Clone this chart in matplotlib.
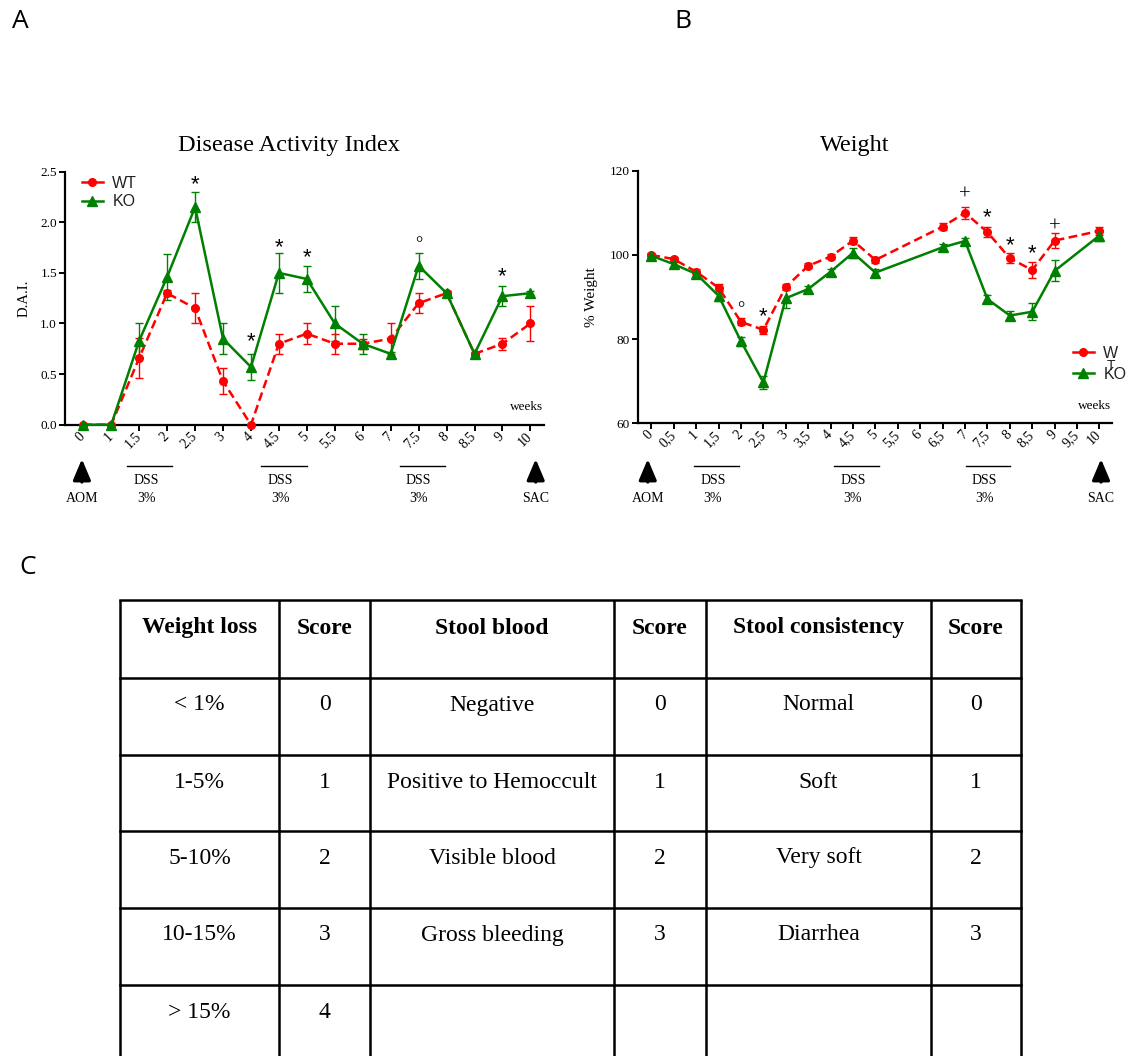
import matplotlib
matplotlib.use("Agg")
import matplotlib.pyplot as plt
import matplotlib.transforms as mtransforms
from matplotlib.lines import Line2D
from matplotlib.patches import FancyArrowPatch

W, H = 1127, 1056

# ---- Disease Activity Index (categorical weeks) ----
dai_weeks = ["0", "1", "1.5", "2", "2.5", "3", "4", "4.5", "5", "5.5",
             "6", "7", "7.5", "8", "8.5", "9", "10"]
dai_wt = [0, 0, 0.66, 1.30, 1.15, 0.43, 0.0, 0.80, 0.90, 0.80,
          0.80, 0.85, 1.20, 1.30, 0.70, 0.80, 1.00]
dai_wt_err = [0, 0, 0.20, 0.03, 0.15, 0.13, 0.0, 0.10, 0.10, 0.10,
              0.05, 0.15, 0.10, 0.02, 0.02, 0.06, 0.17]
dai_ko = [0, 0, 0.83, 1.46, 2.15, 0.85, 0.57, 1.50, 1.44, 1.00,
          0.80, 0.70, 1.57, 1.30, 0.70, 1.27, 1.30]
dai_ko_err = [0, 0, 0.17, 0.23, 0.15, 0.15, 0.13, 0.20, 0.13, 0.17,
              0.10, 0.02, 0.13, 0.02, 0.02, 0.10, 0.02]
dai_sig_week = ["2.5", "4", "4.5", "5", "7.5", "9"]
dai_sig_sym = ["*", "*", "*", "*", "°", "*"]
dai_sig_y = [2.37, 0.82, 1.75, 1.65, 1.78, 1.46]

# ---- Weight ----
wt_ticks = ["0", "0,5", "1", "1,5", "2", "2,5", "3", "3,5", "4", "4,5", "5",
            "5,5", "6", "6,5", "7", "7,5", "8", "8,5", "9", "9,5", "10"]
wt_tick_vals = [0, 0.5, 1, 1.5, 2, 2.5, 3, 3.5, 4, 4.5, 5,
                5.5, 6, 6.5, 7, 7.5, 8, 8.5, 9, 9.5, 10]
wt_weeks = [0, 0.5, 1, 1.5, 2, 2.5, 3, 3.5, 4, 4.5, 5, 6.5, 7, 7.5, 8, 8.5, 9, 10]
wt_wt = [100.0, 99.0, 96.0, 92.2, 84.1, 82.2, 92.4, 97.4, 99.6, 103.4, 98.8,
         106.7, 110.0, 105.4, 99.2, 96.4, 103.4, 105.7]
wt_wt_err = [0.5, 0.5, 0.6, 0.8, 0.8, 1.0, 0.8, 0.6, 0.6, 0.9, 0.8,
             0.9, 1.4, 1.2, 1.2, 1.8, 1.8, 1.0]
wt_ko = [99.8, 97.8, 95.5, 90.3, 79.5, 69.7, 89.7, 91.9, 96.0, 100.5, 95.8,
         101.8, 103.3, 89.5, 85.6, 86.5, 96.2, 104.6]
wt_ko_err = [0.5, 0.6, 0.6, 1.2, 1.1, 1.6, 2.3, 0.6, 0.7, 1.2, 0.8,
             0.7, 0.6, 1.0, 1.0, 2.0, 2.5, 1.3]
wt_sig_week = [2, 2.5, 7, 7.5, 8, 8.5, 9]
wt_sig_sym = ["°", "*", "+", "*", "*", "*", "+"]
wt_sig_y = [86.9, 85.3, 114.1, 108.9, 102.1, 100.2, 106.7]

# ---- Scoring table ----
table_header = ["Weight loss", "Score", "Stool blood", "Score", "Stool consistency", "Score"]
weight_loss = ["< 1%", "1-5%", "5-10%", "10-15%", "> 15%"]
weight_score = ["0", "1", "2", "3", "4"]
stool_blood = ["Negative", "Positive to Hemoccult", "Visible blood", "Gross bleeding", ""]
blood_score = ["0", "1", "2", "3", ""]
stool_cons = ["Normal", "Soft", "Very soft", "Diarrhea", ""]
cons_score = ["0", "1", "2", "3", ""]

RED = "#ff0000"
GREEN = "#008000"
SERIF = "Liberation Serif"
SANS = "Liberation Sans"

fig = plt.figure(figsize=(W / 100, H / 100), dpi=100)
fig.patch.set_facecolor("white")

# transform in pixel units measured from the top-left corner of the figure
px = mtransforms.Affine2D().scale(1 / W, -1 / H).translate(0, 1) + fig.transFigure


def style_axes(ax):
    for s in ("top", "right"):
        ax.spines[s].set_visible(False)
    for s in ("left", "bottom"):
        ax.spines[s].set_linewidth(1.6)
    ax.tick_params(axis="both", direction="out", length=4, width=1.4,
                   colors="black")
    ax.tick_params(axis="y", labelsize=9.5, pad=2)
    ax.tick_params(axis="x", labelsize=10, pad=3)
    for lab in ax.get_yticklabels():
        lab.set_fontfamily(SERIF)


def draw_series(ax, x, y, err, color, marker, ms, ls):
    ax.errorbar(x, y, yerr=err, color=color, ecolor=color, elinewidth=1.0,
                capsize=3, capthick=1.0, fmt="none", clip_on=False, zorder=3)
    line, = ax.plot(x, y, color=color, lw=1.8, ls=ls, marker=marker, ms=ms,
                    clip_on=False, zorder=4)
    if ls == "--":
        line.set_dashes((3.5, 1.8))
    return line


def sig_mark(ax, x, y, sym):
    if sym == "+":
        ax.text(x, y, sym, ha="center", va="center", fontsize=15, family=SERIF)
    elif sym == "*":
        ax.text(x, y, sym, ha="center", va="center", fontsize=16, family=SANS)
    else:
        ax.text(x, y, sym, ha="center", va="center", fontsize=13, family=SERIF)


def x_annotations(ax, dss_spans, dss_centers, aom_x, sac_x):
    tr = mtransforms.blended_transform_factory(ax.transData, px)
    for (a, b) in dss_spans:
        ax.plot([a, b], [465.5, 465.5], transform=tr, color="black", lw=1.0,
                clip_on=False)
    for c in dss_centers:
        ax.text(c, 481, "DSS", transform=tr, ha="center", va="center",
                fontsize=10, family=SERIF)
        ax.text(c, 498, "3%", transform=tr, ha="center", va="center",
                fontsize=10, family=SERIF)
    for xa, lab in ((aom_x, "AOM"), (sac_x, "SAC")):
        arr = FancyArrowPatch((xa, 482), (xa, 459), transform=tr,
                              arrowstyle="-|>,head_length=0.9,head_width=0.38",
                              mutation_scale=14, color="black", lw=2.4,
                              shrinkA=0, shrinkB=0, clip_on=False)
        ax.add_artist(arr)
        ax.text(xa, 498, lab, transform=tr, ha="center", va="center",
                fontsize=10, family=SERIF)


# ================= Panel A: DAI =================
axA = fig.add_axes([65.3 / W, 1 - 424.7 / H, (543.8 - 65.3) / W, 253 / H])
xa = list(range(len(dai_weeks)))
draw_series(axA, xa, dai_wt, dai_wt_err, RED, "o", 5.5, "--")
draw_series(axA, xa, dai_ko, dai_ko_err, GREEN, "^", 6.5, "-")
axA.set_xlim(-0.644, 16.48)
axA.set_ylim(0, 2.5)
axA.set_yticks([0, 0.5, 1.0, 1.5, 2.0, 2.5])
axA.set_yticklabels(["0.0", "0.5", "1.0", "1.5", "2.0", "2.5"])
axA.set_xticks(xa)
axA.set_xticklabels(dai_weeks, rotation=45, ha="right", va="center",
                    rotation_mode="anchor", family=SERIF)
style_axes(axA)
axA.set_ylabel("D.A.I.", family=SERIF, fontsize=10.5, labelpad=7)
fig.text(289 / W, 1 - 145 / H, "Disease Activity Index", family=SERIF,
         fontsize=17.5, ha="center", va="center")
for wk, sym, yv in zip(dai_sig_week, dai_sig_sym, dai_sig_y):
    sig_mark(axA, dai_weeks.index(wk), yv, sym)
axA.text(16.45, 0.17, "weeks", ha="right", va="center", fontsize=9.5, family=SERIF)
x_annotations(axA, [(1.58, 3.19), (6.37, 7.99), (11.34, 12.94)],
              [2.26, 7.04, 12.0], -0.05, 16.19)

hA = [Line2D([], [], color=RED, marker="o", ms=5.5, lw=1.8),
      Line2D([], [], color=GREEN, marker="^", ms=6.5, lw=1.8)]
axA.legend(hA, ["WT", "KO"], loc="upper left", frameon=False,
           bbox_to_anchor=(82 / W, 1 - 176 / H), bbox_transform=fig.transFigure,
           borderpad=0, borderaxespad=0, handlelength=1.3, handletextpad=0.6,
           labelspacing=0.2, prop={"family": SANS, "size": 11.5},
           labelcolor="#222222")

# ================= Panel B: Weight =================
axB = fig.add_axes([637.9 / W, 1 - 423.3 / H, (1112 - 637.9) / W, 252.6 / H])
draw_series(axB, wt_weeks, wt_wt, wt_wt_err, RED, "o", 5.5, "--")
draw_series(axB, wt_weeks, wt_ko, wt_ko_err, GREEN, "^", 6.5, "-")
axB.set_xlim(-0.30, 10.28)
axB.set_ylim(60, 120)
axB.set_yticks([60, 80, 100, 120])
axB.set_xticks(wt_tick_vals)
axB.set_xticklabels(wt_ticks, rotation=45, ha="right", va="center",
                    rotation_mode="anchor", family=SERIF)
style_axes(axB)
axB.set_ylabel("% Weight", family=SERIF, fontsize=11, labelpad=8)
fig.text(855 / W, 1 - 145 / H, "Weight", family=SERIF, fontsize=17.5,
         ha="center", va="center")
for wk, sym, yv in zip(wt_sig_week, wt_sig_sym, wt_sig_y):
    sig_mark(axB, wk, yv, sym)
axB.text(10.25, 64.0, "weeks", ha="right", va="center", fontsize=9.5, family=SERIF)
x_annotations(axB, [(0.96, 1.945), (4.085, 5.085), (7.015, 8.005)],
              [1.375, 4.5, 7.43], -0.08, 10.035)

hB = [Line2D([], [], color=RED, marker="o", ms=5.5, lw=1.8),
      Line2D([], [], color=GREEN, marker="^", ms=6.5, lw=1.8)]
axB.legend(hB, ["W", "KO"], loc="upper left", frameon=False,
           bbox_to_anchor=(1073 / W, 1 - 346 / H), bbox_transform=fig.transFigure,
           borderpad=0, borderaxespad=0, handlelength=1.3, handletextpad=0.6,
           labelspacing=0.35, prop={"family": SANS, "size": 11.5},
           labelcolor="#222222")
fig.text(1111 / W, 1 - 366 / H, "T", ha="center", va="center",
         fontsize=10, family=SANS, color="#222222")

# ================= Panel letters =================
fig.text(20 / W, 1 - 21 / H, "A", ha="center", va="center", fontsize=19,
         family="Open Sans")
fig.text(683 / W, 1 - 21 / H, "B", ha="center", va="center", fontsize=19,
         family="Open Sans")
fig.text(28 / W, 1 - 567 / H, "C", ha="center", va="center", fontsize=19,
         family="Open Sans")

# ================= Panel C: scoring table =================
axC = fig.add_axes([0, 0, 1, 1], zorder=-1)
axC.set_xlim(0, W)
axC.set_ylim(H, 0)
axC.axis("off")
col_edges = [120, 279, 370, 614, 706, 931, 1021]
row_edges = [600, 678, 755, 831, 908, 985]
for xe in col_edges:
    axC.plot([xe, xe], [row_edges[0], H], color="black", lw=1.8,
             solid_capstyle="butt")
for ye in row_edges:
    axC.plot([col_edges[0], col_edges[-1]], [ye, ye], color="black", lw=1.8,
             solid_capstyle="projecting")
centers = [(a + b) / 2 for a, b in zip(col_edges[:-1], col_edges[1:])]
for c, txt in zip(centers, table_header):
    axC.text(c, row_edges[0] + 28, txt, ha="center", va="center", fontsize=17,
             family=SERIF, fontweight="bold")
columns = [weight_loss, weight_score, stool_blood, blood_score, stool_cons, cons_score]
for ci, col in enumerate(columns):
    for ri, txt in enumerate(col):
        if txt:
            axC.text(centers[ci], row_edges[ri + 1] + 27, txt, ha="center",
                     va="center", fontsize=17, family=SERIF)

fig.savefig("out.png", dpi=100, facecolor="white")
